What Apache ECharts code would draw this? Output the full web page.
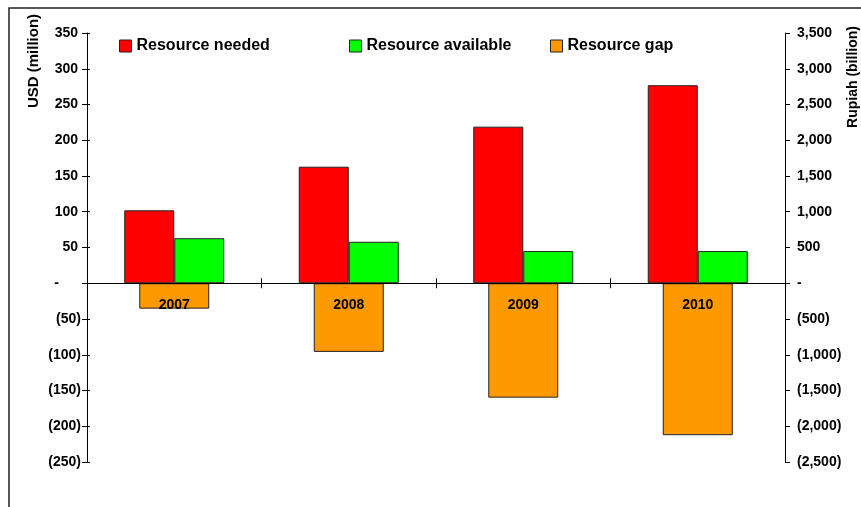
<!DOCTYPE html>
<html>
<head>
<meta charset="utf-8">
<script src="https://cdn.jsdelivr.net/npm/echarts@6/dist/echarts.min.js"></script>
<style>
  html, body { margin: 0; padding: 0; background: #fff; }
  #chart { width: 861px; height: 507px; }
</style>
</head>
<body>
<div id="chart"></div>
<script>
// Funding figures per year
const years = ['2007', '2008', '2009', '2010'];
const resourceNeeded = [102, 163, 219, 277];      // USD million
const resourceAvailable = [63, 58, 45, 45];       // USD million
const resourceGap = [-355, -960, -1600, -2125];   // Rupiah billion

const usdTicks = { min: -250, max: 350, step: 50 };
const rupiahTicks = { min: -2500, max: 3500, step: 500 };

const FONT = 'Liberation Sans, Arial, Helvetica, sans-serif';

function withCommas(n) {
  return String(n).replace(/\B(?=(\d{3})+(?!\d))/g, ',');
}

// Accounting style: negatives in brackets, zero as a dash
function usdLabel(v) {
  if (v === 0) return '{z|-}';
  if (v < 0) return '{n|(' + withCommas(-v) + ')}';
  return '{p|' + withCommas(v) + '}';
}
function rupiahLabel(v) {
  if (v === 0) return '-';
  if (v < 0) return '(' + withCommas(-v) + ')';
  return withCommas(v);
}

const labelFont = { fontFamily: FONT, fontSize: 14, fontWeight: 'bold', color: '#000' };
const blackLine = { show: true, lineStyle: { color: '#000', width: 1 } };

const chart = echarts.init(document.getElementById('chart'), null, { renderer: 'canvas' });

const legendBase = {
  orient: 'horizontal',
  top: 38,
  padding: 0,
  itemWidth: 12,
  itemHeight: 12,
  icon: 'rect',
  selectedMode: false,
  itemStyle: { borderColor: '#222', borderWidth: 1 },
  textStyle: { fontFamily: FONT, fontSize: 16, fontWeight: 'bold', color: '#000' }
};

chart.setOption({
  backgroundColor: '#fff',
  animation: false,
  legend: [
    Object.assign({}, legendBase, { left: 119, data: ['Resource needed'] }),
    Object.assign({}, legendBase, { left: 349, data: ['Resource available'] }),
    Object.assign({}, legendBase, { left: 550, data: ['Resource gap'] })
  ],
  grid: { left: 87, right: 76, top: 33, bottom: 45, containLabel: false },
  xAxis: [
    {
      type: 'category',
      data: years,
      position: 'bottom',
      z: 10,
      axisLine: Object.assign({ onZero: true, onZeroAxisIndex: 0 }, blackLine),
      axisTick: { show: true, inside: false, length: 5, lineStyle: { color: '#000' } },
      axisLabel: { show: false },
      splitLine: { show: false }
    },
    {
      type: 'category',
      data: years,
      position: 'bottom',
      z: 10,
      axisLine: Object.assign({ onZero: true, onZeroAxisIndex: 1 }, blackLine),
      axisTick: { show: true, inside: true, length: 5, lineStyle: { color: '#000' } },
      axisLabel: { show: false },
      splitLine: { show: false }
    }
  ],
  yAxis: [
    {
      type: 'value',
      position: 'left',
      min: usdTicks.min, max: usdTicks.max, interval: usdTicks.step,
      axisLine: blackLine,
      axisTick: { show: true, length: 5, lineStyle: { color: '#000' } },
      splitLine: { show: false },
      axisLabel: {
        margin: 6,
        formatter: usdLabel,
        rich: {
          p: Object.assign({ padding: [0, 3, 0, 0] }, labelFont),
          n: Object.assign({}, labelFont),
          z: Object.assign({ padding: [0, 22, 0, 0] }, labelFont)
        }
      }
    },
    {
      type: 'value',
      position: 'right',
      min: rupiahTicks.min, max: rupiahTicks.max, interval: rupiahTicks.step,
      axisLine: blackLine,
      axisTick: { show: true, length: 5, lineStyle: { color: '#000' } },
      splitLine: { show: false },
      axisLabel: Object.assign({ margin: 12, formatter: rupiahLabel }, labelFont)
    },
    {
      // inward tick marks on the USD axis
      type: 'value',
      position: 'left',
      offset: 0,
      min: usdTicks.min, max: usdTicks.max, interval: usdTicks.step,
      axisLine: { show: false },
      axisTick: { show: true, inside: true, length: 3, lineStyle: { color: '#000' } },
      axisLabel: { show: false },
      splitLine: { show: false }
    }
  ],
  series: [
    {
      name: 'Resource needed',
      type: 'bar',
      xAxisIndex: 0,
      yAxisIndex: 0,
      data: resourceNeeded,
      barWidth: 50,
      barGap: '0%',
      itemStyle: { color: '#FF0000', borderColor: '#222', borderWidth: 1 }
    },
    {
      name: 'Resource available',
      type: 'bar',
      xAxisIndex: 0,
      yAxisIndex: 0,
      data: resourceAvailable,
      barWidth: 50,
      barGap: '0%',
      itemStyle: { color: '#00FF00', borderColor: '#222', borderWidth: 1 }
    },
    {
      name: 'Resource gap',
      type: 'bar',
      xAxisIndex: 1,
      yAxisIndex: 1,
      data: resourceGap,
      barWidth: 70,
      z: 3,
      itemStyle: { color: '#FF9900', borderColor: '#222', borderWidth: 1 },
      // year names sit just under the zero line
      label: {
        show: true,
        position: 'insideTop',
        distance: 15,
        formatter: '{b}',
        fontFamily: FONT,
        fontSize: 14,
        fontWeight: 'bold',
        color: '#000'
      }
    }
  ],
  graphic: [
    {
      type: 'rect',
      silent: true,
      shape: { x: 9, y: 8, width: 900, height: 600 },
      style: { fill: 'none', stroke: '#222', lineWidth: 1.5 }
    },
    {
      type: 'text',
      x: 34, y: 61,
      rotation: Math.PI / 2,
      style: {
        text: 'USD (million)',
        font: 'bold 15px ' + FONT,
        fill: '#000',
        align: 'center',
        verticalAlign: 'middle'
      }
    },
    {
      type: 'text',
      x: 853, y: 77,
      rotation: Math.PI / 2,
      style: {
        text: 'Rupiah (billion)',
        font: 'bold 14px ' + FONT,
        fill: '#000',
        align: 'center',
        verticalAlign: 'middle'
      }
    }
  ]
});
</script>
</body>
</html>
